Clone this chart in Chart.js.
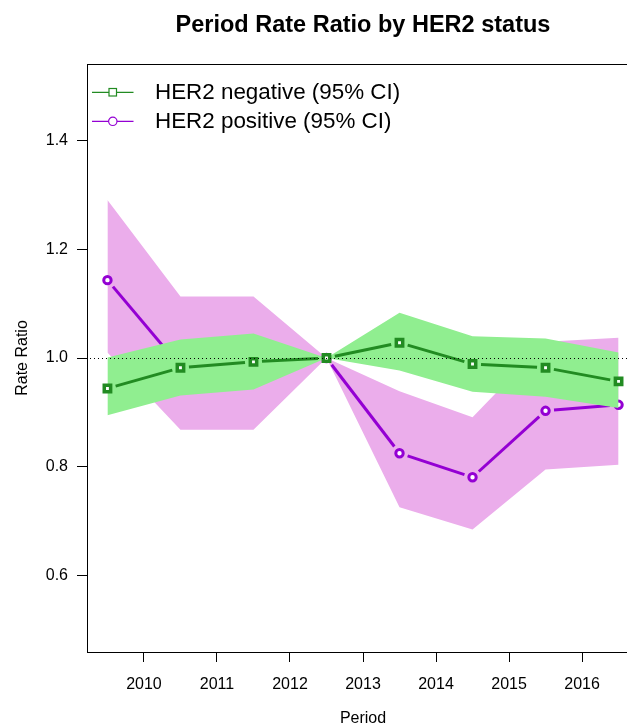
<!DOCTYPE html>
<html>
<head>
<meta charset="utf-8">
<script src="https://cdn.jsdelivr.net/npm/chart.js@4.4.0/dist/chart.umd.min.js"></script>
<style>
  html, body { margin: 0; padding: 0; background: #fff; overflow: hidden; }
  #wrap { position: relative; width: 627px; height: 726px; overflow: hidden; }
  #chart { position: absolute; left: 0; top: 0; }
  .title { position: absolute; left: 113px; width: 500px; top: 13px; text-align: center;
           font: bold 23.5px "Liberation Sans", Arial, sans-serif; line-height: 23px; color: #000; }
  .leg { position: absolute; left: 155px; font: 22.4px "Liberation Sans", Arial, sans-serif;
         line-height: 22px; color: #000; white-space: nowrap; }
  .legsym { position: absolute; left: 90px; }
</style>
</head>
<body>
<div id="wrap">
  <canvas id="chart" width="660" height="726"></canvas>
  <div class="title">Period Rate Ratio by HER2 status</div>
  <div id="legend"></div>
</div>
<script>
// periods (plotted at mid-year) and axis ticks
var periodMid = [2009.5, 2010.5, 2011.5, 2012.5, 2013.5, 2014.5, 2015.5, 2016.5];
var yearTicks = [2010, 2011, 2012, 2013, 2014, 2015, 2016];
var rateTicks = [0.6, 0.8, 1.0, 1.2, 1.4];
var xLimits = [2009.22, 2016.78];
var yLimits = [0.46, 1.54];
var refLine = 1.0;

// HER2 negative: rate ratio and 95% CI
var negRR = [0.944, 0.982, 0.993, 1.000, 1.028, 0.989, 0.982, 0.957];
var negLo = [0.895, 0.931, 0.942, 1.000, 0.977, 0.938, 0.929, 0.908];
var negHi = [1.001, 1.034, 1.045, 1.000, 1.083, 1.040, 1.036, 1.010];

// HER2 positive: rate ratio and 95% CI
var posRR = [1.143, 0.984, 0.985, 1.000, 0.825, 0.781, 0.903, 0.914];
var posLo = [1.010, 0.868, 0.868, 1.000, 0.726, 0.685, 0.795, 0.804];
var posHi = [1.290, 1.113, 1.113, 1.000, 0.939, 0.891, 1.030, 1.037];

var seriesNames = ['HER2 negative (95% CI)', 'HER2 positive (95% CI)'];
var lineColors = ['#228B22', '#9400D3'];
var bandColors = ['#90EE90', '#EBADEB'];

var FONT = '"Liberation Sans", Arial, sans-serif';
Chart.defaults.font.family = FONT;
Chart.defaults.color = '#000';

function pts(vals) {
  return vals.map(function (v, i) { return { x: periodMid[i], y: v }; });
}

// legend (top left inside the plot)
var legendHtml = '';
seriesNames.forEach(function (name, i) {
  var cy = [92, 121][i];
  var mark = i == 0
    ? '<rect x="19" y="4.5" width="7.5" height="7.5" fill="#fff" stroke="' + lineColors[i] + '" stroke-width="1.2"/>'
    : '<circle cx="22.8" cy="8.3" r="4.2" fill="#fff" stroke="' + lineColors[i] + '" stroke-width="1.2"/>';
  legendHtml += '<svg class="legsym" style="top:' + (cy - 8) + 'px" width="46" height="16">' +
    '<line x1="2" y1="8.3" x2="43.5" y2="8.3" stroke="' + lineColors[i] + '" stroke-width="1.2"/>' + mark + '</svg>';
  legendHtml += '<div class="leg" style="top:' + (cy - 11) + 'px">' + name + '</div>';
});
document.getElementById('legend').innerHTML = legendHtml;

// R style type="b" lines: segments stop short of the points
var gapLines = {
  id: 'gapLines',
  afterDatasetDraw: function (chart, args) {
    var ds = chart.data.datasets[args.index];
    if (!ds.gapLine) return;
    var p = args.meta.data, ctx = chart.ctx, gap = 8.5;
    ctx.save();
    ctx.strokeStyle = ds.pointBorderColor;
    ctx.lineWidth = 3;
    for (var i = 1; i < p.length; i++) {
      var dx = p[i].x - p[i - 1].x, dy = p[i].y - p[i - 1].y;
      var len = Math.sqrt(dx * dx + dy * dy);
      if (len <= 2 * gap) continue;
      var ux = dx / len, uy = dy / len;
      ctx.beginPath();
      ctx.moveTo(p[i - 1].x + ux * gap, p[i - 1].y + uy * gap);
      ctx.lineTo(p[i].x - ux * gap, p[i].y - uy * gap);
      ctx.stroke();
    }
    ctx.restore();
  }
};

// dotted reference line and the plot box
var frame = {
  id: 'frame',
  afterDatasetsDraw: function (chart) {
    var a = chart.chartArea, ctx = chart.ctx;
    var y = Math.round(chart.scales.y.getPixelForValue(refLine)) + 0.5;
    ctx.save();
    ctx.strokeStyle = '#000';
    ctx.lineWidth = 1;
    ctx.setLineDash([1, 3]);
    ctx.beginPath();
    ctx.moveTo(a.left + 3, y);
    ctx.lineTo(a.right, y);
    ctx.stroke();
    ctx.setLineDash([]);
    ctx.strokeRect(a.left + 0.5, a.top + 0.5, a.right - a.left - 1, a.bottom - a.top);
    ctx.restore();
  }
};

var band = { borderColor: 'rgba(0,0,0,0)', borderWidth: 1, pointRadius: 0 };

var datasets = [
  { label: seriesNames[0], data: pts(negRR), showLine: false, gapLine: true, order: 1,
    pointStyle: 'rect', pointRadius: 4.5, pointBorderWidth: 3.5,
    pointBorderColor: lineColors[0], pointBackgroundColor: '#fff' },
  Object.assign({ data: pts(negHi), fill: 2, backgroundColor: bandColors[0], order: 2 }, band),
  Object.assign({ data: pts(negLo), fill: false, order: 3 }, band),
  { label: seriesNames[1], data: pts(posRR), showLine: false, gapLine: true, order: 4,
    pointStyle: 'circle', pointRadius: 3.7, pointBorderWidth: 3,
    pointBorderColor: lineColors[1], pointBackgroundColor: '#fff' },
  Object.assign({ data: pts(posHi), fill: 5, backgroundColor: bandColors[1], order: 5 }, band),
  Object.assign({ data: pts(posLo), fill: false, order: 6 }, band)
];

var axisGrid = { drawOnChartArea: false, drawTicks: true, tickLength: 10, color: '#000', tickColor: '#000', lineWidth: 1 };

new Chart(document.getElementById('chart'), {
  type: 'line',
  data: { datasets: datasets },
  options: {
    responsive: false,
    animation: false,
    events: [],
    layout: { padding: { top: 64, right: 21, left: 0, bottom: 0 } },
    plugins: { legend: { display: false }, tooltip: { enabled: false }, title: { display: false } },
    scales: {
      x: {
        type: 'linear', min: xLimits[0], max: xLimits[1],
        afterBuildTicks: function (s) { s.ticks = yearTicks.map(function (v) { return { value: v }; }); },
        afterFit: function (s) { s.height = 74; },
        grid: axisGrid,
        border: { display: false },
        ticks: { font: { size: 16 }, padding: 13, maxRotation: 0, autoSkip: false,
                 callback: function (v) { return String(v); } },
        title: { display: true, text: 'Period', font: { size: 16 }, padding: { top: 0, bottom: -2 } }
      },
      y: {
        type: 'linear', min: yLimits[0], max: yLimits[1],
        afterBuildTicks: function (s) { s.ticks = rateTicks.map(function (v) { return { value: v }; }); },
        afterFit: function (s) { s.width = 87; },
        grid: axisGrid,
        border: { display: false },
        ticks: { font: { size: 16 }, padding: 9, autoSkip: false,
                 callback: function (v) { return Number(v).toFixed(1); } },
        title: { display: true, text: 'Rate Ratio', font: { size: 16 }, padding: { top: 13, bottom: 0 } }
      }
    }
  },
  plugins: [gapLines, frame]
});
</script>
</body>
</html>
